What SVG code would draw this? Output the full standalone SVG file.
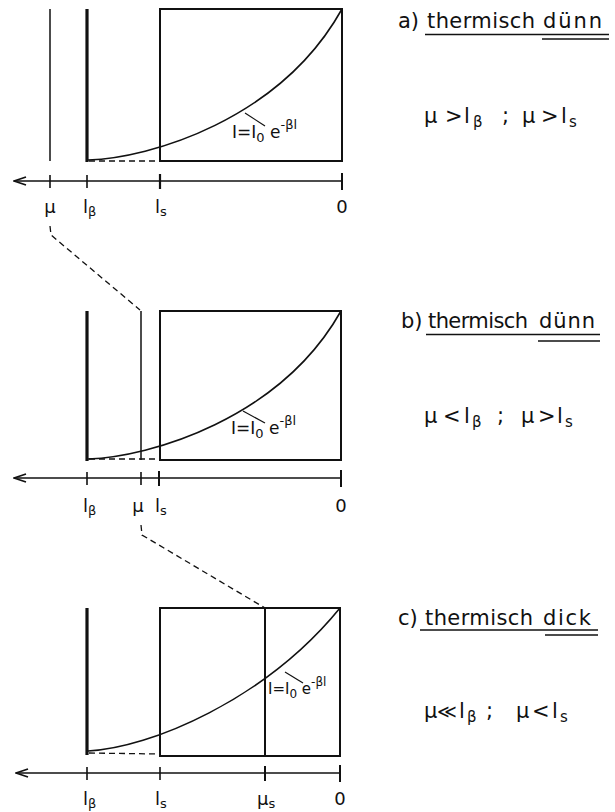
<svg xmlns="http://www.w3.org/2000/svg" width="615" height="812" viewBox="0 0 615 812">
<style>
.t{font-family:"DejaVu Sans","Liberation Sans",sans-serif;fill:#111}
.lbl{font-size:18px}
.sub{font-size:13px}
.head{font-size:21px}
.cond{font-size:21px}
.cs{font-size:15px}
.f{font-size:17px}
.ln{stroke:#111;fill:none}
.box{stroke:#111;stroke-width:2;fill:none}
.thick{stroke:#111;stroke-width:3.2}
.thin{stroke:#111;stroke-width:1.5}
.axis{stroke:#111;stroke-width:1.6;fill:none}
.dash{stroke:#111;stroke-width:1.3;stroke-dasharray:6 4;fill:none}
.curve{stroke:#111;stroke-width:1.6;fill:none}
</style>
<defs>
<marker id="arr" markerWidth="16" markerHeight="12" refX="1" refY="6" orient="auto" markerUnits="userSpaceOnUse">
<path d="M13,2 L1,6 L13,10" stroke="#111" stroke-width="1.8" fill="none"/>
</marker>
</defs>

<g id="panel-a">
<line class="thin" x1="50" y1="9" x2="50" y2="161"/>
<line class="thick" x1="87" y1="9" x2="87" y2="162"/>
<rect class="box" x="160" y="9" width="182" height="152"/>
<path class="curve" d="M88,160 C150,158 280,120 342,9"/>
<line class="dash" x1="89" y1="161" x2="159" y2="161"/>
<line class="ln" stroke-width="1.2" x1="245" y1="113" x2="265" y2="126"/>
<text class="t f" x="232" y="138">I=I<tspan class="sub" dy="4">0</tspan><tspan dy="-4"> e</tspan><tspan class="sub" dy="-9">-βl</tspan></text>
<line class="axis" x1="14" y1="181" x2="342" y2="181" marker-start="url(#arr)"/>
<line class="ln" stroke-width="1.6" x1="50" y1="175" x2="50" y2="188"/>
<line class="ln" stroke-width="1.6" x1="87" y1="175" x2="87" y2="188"/>
<line class="ln" stroke-width="2.2" x1="160" y1="174" x2="160" y2="189"/>
<line class="ln" stroke-width="2" x1="342" y1="173" x2="342" y2="190"/>
<text class="t lbl" x="50" y="213" text-anchor="middle">μ</text>
<text class="t lbl" x="83" y="213">l<tspan class="sub" dy="3">β</tspan></text>
<text class="t lbl" x="155" y="213">l<tspan class="sub" dy="3">s</tspan></text>
<text class="t lbl" x="342" y="213" text-anchor="middle">0</text>
</g>

<g id="panel-b">
<line class="thick" x1="87" y1="311" x2="87" y2="461"/>
<line class="thin" x1="141" y1="311" x2="141" y2="460"/>
<rect class="box" x="160" y="311" width="181" height="149"/>
<path class="curve" d="M88,459 C150,457 280,419 341,311"/>
<line class="dash" x1="89" y1="459" x2="159" y2="459"/>
<line class="ln" stroke-width="1.2" x1="243" y1="411" x2="265" y2="423"/>
<text class="t f" x="231" y="434">I=I<tspan class="sub" dy="4">0</tspan><tspan dy="-4"> e</tspan><tspan class="sub" dy="-9">-βl</tspan></text>
<line class="axis" x1="14" y1="478" x2="341" y2="478" marker-start="url(#arr)"/>
<line class="ln" stroke-width="1.6" x1="87" y1="472" x2="87" y2="485"/>
<line class="ln" stroke-width="1.6" x1="141" y1="472" x2="141" y2="485"/>
<line class="ln" stroke-width="2" x1="159" y1="471" x2="159" y2="486"/>
<line class="ln" stroke-width="2" x1="341" y1="470" x2="341" y2="487"/>
<text class="t lbl" x="83" y="512">l<tspan class="sub" dy="3">β</tspan></text>
<text class="t lbl" x="138" y="512" text-anchor="middle">μ</text>
<text class="t lbl" x="155" y="512">l<tspan class="sub" dy="3">s</tspan></text>
<text class="t lbl" x="341" y="512" text-anchor="middle">0</text>
</g>

<g id="panel-c">
<line class="thick" x1="87" y1="608" x2="87" y2="755"/>
<rect class="box" x="160" y="608" width="180" height="148"/>
<line class="ln" stroke-width="2" x1="265" y1="608" x2="265" y2="756"/>
<path class="curve" d="M88,751 C150,748 265,700 340,608"/>
<line class="dash" x1="89" y1="753" x2="159" y2="754"/>
<line class="ln" stroke-width="1.2" x1="285" y1="672" x2="303" y2="683"/>
<text class="t" x="268" y="694" style="font-size:15px">I=I<tspan dy="4" style="font-size:12px">0</tspan><tspan dy="-4"> e</tspan><tspan dy="-8" style="font-size:12px">-βl</tspan></text>
<line class="axis" x1="16" y1="773" x2="340" y2="773" marker-start="url(#arr)"/>
<line class="ln" stroke-width="1.6" x1="87" y1="767" x2="87" y2="780"/>
<line class="ln" stroke-width="1.6" x1="160" y1="767" x2="160" y2="780"/>
<line class="ln" stroke-width="2" x1="265" y1="766" x2="265" y2="781"/>
<line class="ln" stroke-width="2" x1="340" y1="765" x2="340" y2="782"/>
<text class="t lbl" x="83" y="805">l<tspan class="sub" dy="3">β</tspan></text>
<text class="t lbl" x="155" y="805">l<tspan class="sub" dy="3">s</tspan></text>
<text class="t lbl" x="257" y="805">μ<tspan class="sub" dy="3">s</tspan></text>
<text class="t lbl" x="340" y="805" text-anchor="middle">0</text>
</g>

<g id="label-a">
<text class="t head" x="398" y="28">a)</text>
<text class="t head" x="427" y="28" textLength="108" lengthAdjust="spacing">thermisch</text>
<text class="t head" x="543" y="28" textLength="59" lengthAdjust="spacing">dünn</text>
<line class="ln" stroke-width="1.6" x1="425" y1="34.5" x2="609" y2="34.5"/>
<line class="ln" stroke-width="1.6" x1="542" y1="39" x2="609" y2="39"/>
<text class="t cond" x="424" y="123">μ</text>
<text class="t cond" x="445" y="123">&gt;</text>
<text class="t cond" x="464" y="123">l</text>
<text class="t cs" x="473" y="127">β</text>
<text class="t cond" x="502" y="123">;</text>
<text class="t cond" x="522" y="123">μ</text>
<text class="t cond" x="541" y="123">&gt;</text>
<text class="t cond" x="561" y="123">l</text>
<text class="t cs" x="569" y="127">s</text>
</g>

<g id="label-b">
<text class="t head" x="401" y="328">b)</text>
<text class="t head" x="428" y="328" textLength="100" lengthAdjust="spacing">thermisch</text>
<text class="t head" x="539" y="328" textLength="56" lengthAdjust="spacing">dünn</text>
<line class="ln" stroke-width="1.6" x1="426" y1="334.5" x2="600" y2="334.5"/>
<line class="ln" stroke-width="1.6" x1="538" y1="341" x2="600" y2="341"/>
<text class="t cond" x="424" y="423">μ</text>
<text class="t cond" x="443" y="423">&lt;</text>
<text class="t cond" x="464" y="423">l</text>
<text class="t cs" x="472" y="427">β</text>
<text class="t cond" x="497" y="423">;</text>
<text class="t cond" x="521" y="423">μ</text>
<text class="t cond" x="538" y="423">&gt;</text>
<text class="t cond" x="557" y="423">l</text>
<text class="t cs" x="565" y="427">s</text>
</g>

<g id="label-c">
<text class="t head" x="398" y="625">c)</text>
<text class="t head" x="425" y="625" textLength="108" lengthAdjust="spacing">thermisch</text>
<text class="t head" x="543" y="625" textLength="48" lengthAdjust="spacing">dick</text>
<line class="ln" stroke-width="1.6" x1="420" y1="630" x2="598" y2="630"/>
<line class="ln" stroke-width="1.6" x1="545" y1="635" x2="598" y2="635"/>
<text class="t cond" x="424" y="718">μ</text>
<text class="t" x="437" y="718" style="font-size:19px">≪</text>
<text class="t cond" x="459" y="718">l</text>
<text class="t cs" x="467" y="722">β</text>
<text class="t cond" x="486" y="718">;</text>
<text class="t cond" x="516" y="718">μ</text>
<text class="t cond" x="532" y="718">&lt;</text>
<text class="t cond" x="552" y="718">l</text>
<text class="t cs" x="560" y="722">s</text>
</g>

<g id="connectors">
<polyline class="dash" points="50,226 51,235 140,310"/>
<polyline class="dash" points="141,525 142,535 265,608"/>
</g>
</svg>
